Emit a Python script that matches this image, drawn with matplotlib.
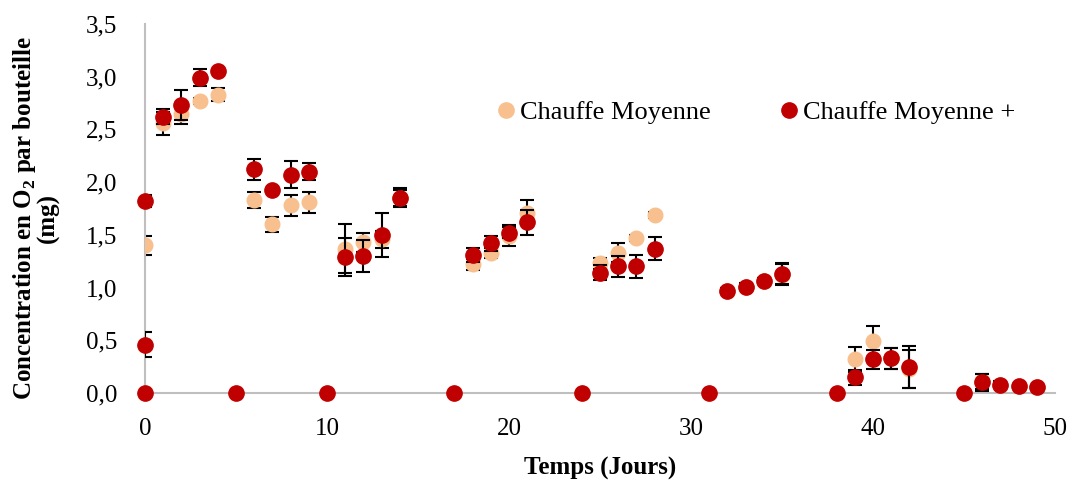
import matplotlib.pyplot as plt
from matplotlib.lines import Line2D

# Chauffe Moyenne
jours_cm = [0, 1, 2, 3, 4, 6, 7, 8, 9, 11, 12, 13, 14, 18, 19, 20, 21,
            25, 26, 27, 28, 32, 33, 34, 35, 39, 40, 41, 42, 46, 47, 48, 49]
cm = [1.40, 2.56, 2.65, 2.77, 2.83, 1.83, 1.60, 1.78, 1.81, 1.37, 1.43, 1.46, 1.85,
      1.22, 1.33, 1.49, 1.71, 1.23, 1.33, 1.47, 1.69, 0.97, 1.01, 1.06, 1.12,
      0.32, 0.49, 0.33, 0.23, 0.11, 0.08, 0.07, 0.06]
err_cm = [0.09, 0.11, 0.10, 0.03, 0.06, 0.08, 0.07, 0.10, 0.10, 0.23, 0.09, 0.08, 0.08,
          0.05, 0.05, 0.10, 0.12, 0.05, 0.09, 0.03, 0.03, 0.03, 0.03, 0.03, 0.10,
          0.12, 0.15, 0.10, 0.18, 0.07, 0.02, 0.02, 0.02]

# Chauffe Moyenne +
jours_cmp = [0, 0, 0, 1, 2, 3, 4, 5, 6, 7, 8, 9, 10, 11, 12, 13, 14, 17, 18, 19, 20, 21,
             24, 25, 26, 27, 28, 31, 32, 33, 34, 35, 38, 39, 40, 41, 42, 45, 46, 47, 48, 49]
cmp = [0, 0.46, 1.82, 2.62, 2.73, 2.99, 3.05, 0, 2.12, 1.93, 2.07, 2.10, 0, 1.29, 1.30,
       1.50, 1.85, 0, 1.31, 1.42, 1.52, 1.62, 0, 1.14, 1.20, 1.20, 1.37, 0, 0.97, 1.01,
       1.06, 1.13, 0, 0.15, 0.32, 0.33, 0.25, 0, 0.10, 0.08, 0.07, 0.06]
err_cmp = [0, 0.12, 0.06, 0.07, 0.14, 0.08, 0.0, 0, 0.10, 0.0, 0.13, 0.08, 0, 0.18, 0.15,
           0.21, 0.09, 0, 0.07, 0.07, 0.05, 0.12, 0, 0.07, 0.10, 0.11, 0.11, 0, 0.03, 0.03,
           0.03, 0.10, 0, 0.07, 0.09, 0.10, 0.20, 0, 0.08, 0.03, 0.02, 0.02]

c_cm = '#F9C08F'
c_cmp = '#C00000'

plt.rcParams['font.family'] = ['Liberation Serif', 'DejaVu Serif']
plt.rcParams['mathtext.fontset'] = 'custom'
plt.rcParams['mathtext.rm'] = 'Liberation Serif'
plt.rcParams['mathtext.bf'] = 'Liberation Serif:bold'

fig = plt.figure(figsize=(10.72, 4.8), dpi=100)
ax = fig.add_axes([145 / 1072, 1 - 393 / 480, 910 / 1072, 369 / 480])

ax.errorbar(jours_cm, cm, yerr=err_cm, fmt='none', ecolor='black', elinewidth=1.5,
            capsize=5, capthick=1.5, zorder=2)
ax.plot(jours_cm, cm, 'o', color=c_cm, markersize=10.5, linestyle='none', zorder=3)
ax.errorbar(jours_cmp, cmp, yerr=err_cmp, fmt='none', ecolor='black', elinewidth=1.5,
            capsize=5, capthick=1.5, zorder=4)
ax.plot(jours_cmp, cmp, 'o', color=c_cmp, markersize=11, linestyle='none', zorder=5,
        clip_on=False)

ax.set_xlim(0, 50)
ax.set_ylim(0, 3.5)
ax.set_xticks(range(0, 51, 10))
ax.set_yticks([i * 0.5 for i in range(8)])
ax.set_yticklabels([f'{i * 0.5:.1f}'.replace('.', ',') for i in range(8)])
ax.tick_params(length=0, labelsize=18)
ax.tick_params(axis='y', pad=20)
ax.tick_params(axis='x', pad=18)

for s in ['top', 'right']:
    ax.spines[s].set_visible(False)
for s in ['left', 'bottom']:
    ax.spines[s].set_color('#BFBFBF')
    ax.spines[s].set_linewidth(1.5)

ax.set_xlabel('Temps (Jours)', fontsize=18, fontweight='bold', labelpad=12)
ax.set_ylabel('Concentration en O$_\\mathbf{2}$ par bouteille\n(mg)', fontsize=18,
              fontweight='bold', linespacing=0.95)
ax.yaxis.set_label_coords(-0.093, 0.475)

handles = [Line2D([], [], marker='o', color=c_cm, linestyle='none', markersize=11),
           Line2D([], [], marker='o', color=c_cmp, linestyle='none', markersize=11)]
ax.legend(handles, ['Chauffe Moyenne', 'Chauffe Moyenne +'], ncol=2, frameon=False,
          loc='center left', bbox_to_anchor=(0.363, 0.76), fontsize=19,
          handlelength=0.5, handletextpad=0.3, columnspacing=2.7)

fig.savefig('out.png', dpi=100)
